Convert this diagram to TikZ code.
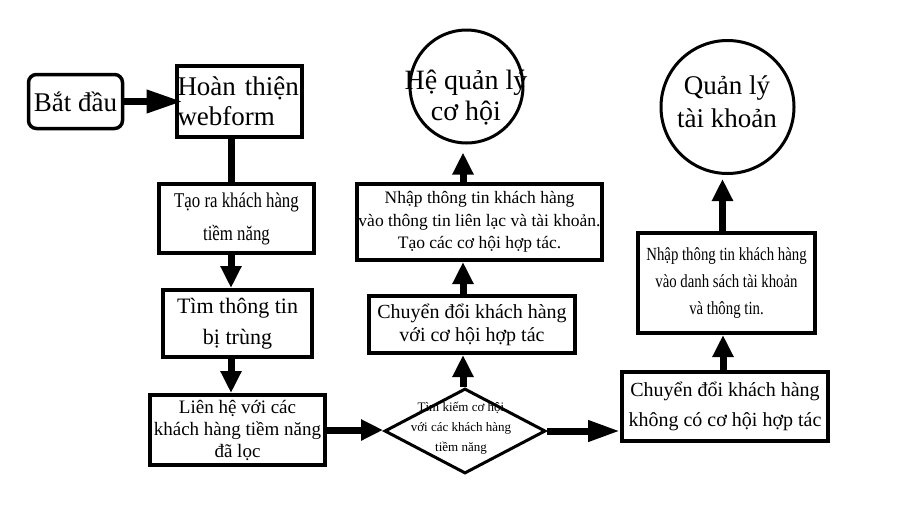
\documentclass[tikz,border=0pt]{standalone}
\usepackage{fontspec}
\setmainfont{Liberation Serif}
\newfontfamily\narrowfont[FakeStretch=0.8]{Liberation Serif}
\usetikzlibrary{shapes.geometric,arrows.meta}
\newcommand{\fs}[2]{\fontsize{#1}{#2}\selectfont}
\begin{document}
\begin{tikzpicture}[x=1pt,y=-1pt,
    box/.style={draw, line width=4pt, inner sep=1pt, align=center},
    blob/.style={draw, circle, line width=3pt, inner sep=0pt},
    flow/.style={line width=7pt, -{Triangle[length=22pt,width=20pt]}}]
  \useasboundingbox (0,0) rectangle (900,512);
  \node[box, rounded corners=8pt, line width=3.5pt, minimum width=94pt, minimum height=54pt, font=\fs{27}{30}] (start) at (75.5,101.5) {Bắt đầu};
  \node[box, align=left, text width=123pt, minimum height=71pt, font=\fs{27}{30}] (hoan) at (239,101.5) {Hoàn thiện\\webform};
  \node[box, minimum width=155pt, minimum height=69pt, font=\narrowfont\fs{21}{33}] (tao) at (236.5,218.5) {Tạo ra khách hàng\\tiềm năng};
  \node[box, minimum width=149pt, minimum height=67pt, font=\fs{22}{31}] (tim) at (237.5,323.5) {Tìm thông tin\\bị trùng};
  \node[box, minimum width=175pt, minimum height=70pt, font=\fs{19}{22}] (lien) at (237.5,430) {Liên hệ với các\\khách hàng tiềm năng\\đã lọc};
  \node[draw, diamond, line width=3pt, minimum width=161pt, minimum height=85pt, inner sep=0pt] (dia) at (465,431) {};
  \node[font=\fs{13}{20}, align=center] (diatext) at (461,428) {Tìm kiếm cơ hội\\với các khách hàng\\tiềm năng};
  \node[box, minimum width=206pt, minimum height=57pt, font=\fs{20}{23}] (chmid) at (472,324.5) {Chuyển đổi khách hàng\\với cơ hội hợp tác};
  \node[box, minimum width=241pt, minimum height=76pt, font=\fs{17.5}{22.5}] (nhmid) at (479.5,222) {Nhập thông tin khách hàng\\vào thông tin liên lạc và tài khoản.\\Tạo các cơ hội hợp tác.};
  \node[blob, minimum size=113pt] (hql) at (466.5,86.5) {};
  \node[font=\fs{28}{31}, align=center] (hqltext) at (466,98) {Hệ quản lý\\cơ hội};
  \node[box, minimum width=206pt, minimum height=69pt, font=\fs{20}{30}] (chk) at (725,406.5) {Chuyển đổi khách hàng\\không có cơ hội hợp tác};
  \node[box, minimum width=177pt, minimum height=100pt, font=\narrowfont\fs{18.5}{27}] (nhr) at (726.5,283) {Nhập thông tin khách hàng\\vào danh sách tài khoản\\và thông tin.};
  \node[blob, minimum size=133pt] (qltk) at (727.5,107) {};
  \node[font=\fs{27}{33}, align=center] (qltktext) at (727,102) {Quản lý\\tài khoản};
  \draw[flow, shorten >=-8pt, -{Triangle[length=36pt,width=22pt]}] (start.east) -- (hoan.west);
  \draw[line width=7pt] ([xshift=-8pt]hoan.south) -- ([xshift=-8pt]hoan.south |- tao.north);
  \draw[flow] ([xshift=-5.5pt]tao.south) -- ([xshift=-5.5pt]tao.south |- tim.north);
  \draw[flow] ([xshift=-6.5pt]tim.south) -- ([xshift=-6.5pt]tim.south |- lien.north);
  \draw[flow] (lien.east) -- (lien.east -| dia.west);
  \draw[flow] ([xshift=-2pt]dia.north) -- ([xshift=-2pt]dia.north |- chmid.south);
  \draw[flow] ([xshift=-9pt]chmid.north) -- ([xshift=-9pt]chmid.north |- nhmid.south);
  \draw[flow, shorten >=8pt] ([xshift=-16.5pt]nhmid.north) -- ([xshift=-16.5pt]nhmid.north |- hql.south);
  \draw[flow, -{Triangle[length=32pt,width=20pt]}] (dia.east) -- (dia.east -| chk.west);
  \draw[flow] ([xshift=-2pt]chk.north) -- ([xshift=-2pt]chk.north |- nhr.south);
  \draw[flow, shorten >=4pt] ([xshift=-4pt]nhr.north) -- ([xshift=-4pt]nhr.north |- qltk.south);
\end{tikzpicture}
\end{document}
